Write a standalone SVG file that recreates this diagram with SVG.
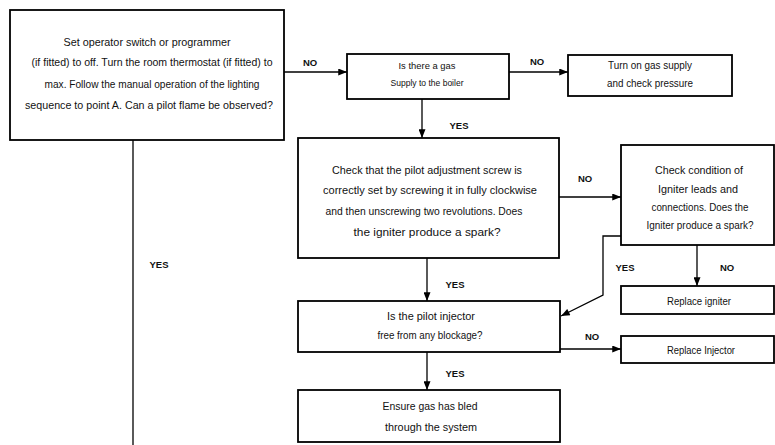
<svg xmlns="http://www.w3.org/2000/svg" width="775" height="445" viewBox="0 0 775 445">
<defs>
<marker id="ah" viewBox="0 0 10 8" refX="10" refY="4" markerWidth="10" markerHeight="7" markerUnits="userSpaceOnUse" orient="auto">
<path d="M0,0 L10,4 L0,8 Z" fill="#000"/>
</marker>
<style>
.box{fill:#fff;stroke:#000;stroke-width:1.8}
.t{font-family:"Liberation Sans",Arial,sans-serif;font-size:10.5px;fill:#111;text-anchor:middle}
.s{font-size:9.5px}
.lb{font-family:"Liberation Sans",Arial,sans-serif;font-size:9.5px;font-weight:bold;fill:#111;text-anchor:middle}
.c{fill:none;stroke:#000;stroke-width:1.3}
.ca{fill:none;stroke:#000;stroke-width:1.3;marker-end:url(#ah)}
</style>
</defs>
<rect width="775" height="445" fill="#fff"/>
<g id="connectors">
<line class="c" x1="133" y1="140" x2="133" y2="445"/>
<line class="ca" x1="284" y1="72" x2="347" y2="72"/>
<line class="ca" x1="509" y1="72" x2="568" y2="72"/>
<line class="ca" x1="422" y1="99" x2="422" y2="138"/>
<line class="ca" x1="559" y1="197" x2="621" y2="197"/>
<line class="ca" x1="697" y1="245" x2="697" y2="286"/>
<polyline class="ca" points="621,236 603,236 603,295 561,316"/>
<line class="ca" x1="427" y1="258" x2="427" y2="301"/>
<line class="ca" x1="560" y1="349" x2="621" y2="349"/>
<line class="ca" x1="427" y1="352" x2="427" y2="390"/>
</g>
<g id="labels">
<text class="lb" x="310" y="66">NO</text>
<text class="lb" x="537" y="65">NO</text>
<text class="lb" x="459" y="129">YES</text>
<text class="lb" x="159" y="268">YES</text>
<text class="lb" x="585" y="182">NO</text>
<text class="lb" x="625" y="271">YES</text>
<text class="lb" x="727" y="271">NO</text>
<text class="lb" x="455" y="288">YES</text>
<text class="lb" x="592" y="340">NO</text>
<text class="lb" x="455" y="377">YES</text>
</g>
<g id="n1">
<rect class="box" x="10" y="10" width="274" height="130"/>
<text class="t" x="147" y="46" textLength="167" lengthAdjust="spacingAndGlyphs">Set operator switch or programmer</text>
<text class="t" x="152" y="66" textLength="241" lengthAdjust="spacingAndGlyphs">(if fitted) to off. Turn the room thermostat (if fitted) to</text>
<text class="t" x="152" y="88" textLength="215" lengthAdjust="spacingAndGlyphs">max. Follow the manual operation of the lighting</text>
<text class="t" x="149" y="109" textLength="248" lengthAdjust="spacingAndGlyphs">sequence to point A. Can a pilot flame be observed?</text>
</g>
<g id="n2">
<rect class="box" x="347" y="54" width="162" height="45"/>
<text class="t s" x="427" y="69" textLength="57" lengthAdjust="spacingAndGlyphs">Is there a gas</text>
<text class="t s" x="427" y="86" textLength="73" lengthAdjust="spacingAndGlyphs">Supply to the boiler</text>
</g>
<g id="n3">
<rect class="box" x="568" y="55" width="164" height="41"/>
<text class="t" x="650" y="69" textLength="84" lengthAdjust="spacingAndGlyphs">Turn on gas supply</text>
<text class="t" x="650" y="87" textLength="86" lengthAdjust="spacingAndGlyphs">and check pressure</text>
</g>
<g id="n4">
<rect class="box" x="298" y="138" width="261" height="120"/>
<text class="t" x="427" y="174" textLength="190" lengthAdjust="spacingAndGlyphs">Check that the pilot adjustment screw is</text>
<text class="t" x="430" y="194" textLength="214" lengthAdjust="spacingAndGlyphs">correctly set by screwing it in fully clockwise</text>
<text class="t" x="424" y="215" textLength="197" lengthAdjust="spacingAndGlyphs">and then unscrewing two revolutions. Does</text>
<text class="t" x="427" y="236" textLength="147" lengthAdjust="spacingAndGlyphs">the igniter produce a spark?</text>
</g>
<g id="n5">
<rect class="box" x="621" y="145" width="153" height="100"/>
<text class="t" x="699" y="174" textLength="88" lengthAdjust="spacingAndGlyphs">Check condition of</text>
<text class="t" x="698" y="193" textLength="80" lengthAdjust="spacingAndGlyphs">Igniter leads and</text>
<text class="t" x="700" y="211" textLength="97" lengthAdjust="spacingAndGlyphs">connections. Does the</text>
<text class="t" x="700" y="229" textLength="107" lengthAdjust="spacingAndGlyphs">Igniter produce a spark?</text>
</g>
<g id="n6">
<rect class="box" x="621" y="286" width="153" height="28"/>
<text class="t" x="699" y="305" textLength="64" lengthAdjust="spacingAndGlyphs">Replace igniter</text>
</g>
<g id="n7">
<rect class="box" x="298" y="301" width="262" height="51"/>
<text class="t" x="431" y="320" textLength="88" lengthAdjust="spacingAndGlyphs">Is the pilot injector</text>
<text class="t" x="430" y="339" textLength="105" lengthAdjust="spacingAndGlyphs">free from any blockage?</text>
</g>
<g id="n8">
<rect class="box" x="621" y="336" width="153" height="27"/>
<text class="t" x="701" y="354" textLength="68" lengthAdjust="spacingAndGlyphs">Replace Injector</text>
</g>
<g id="n9">
<rect class="box" x="298" y="390" width="262" height="52"/>
<text class="t" x="430" y="410" textLength="95" lengthAdjust="spacingAndGlyphs">Ensure gas has bled</text>
<text class="t" x="431" y="431" textLength="92" lengthAdjust="spacingAndGlyphs">through the system</text>
</g>
</svg>
